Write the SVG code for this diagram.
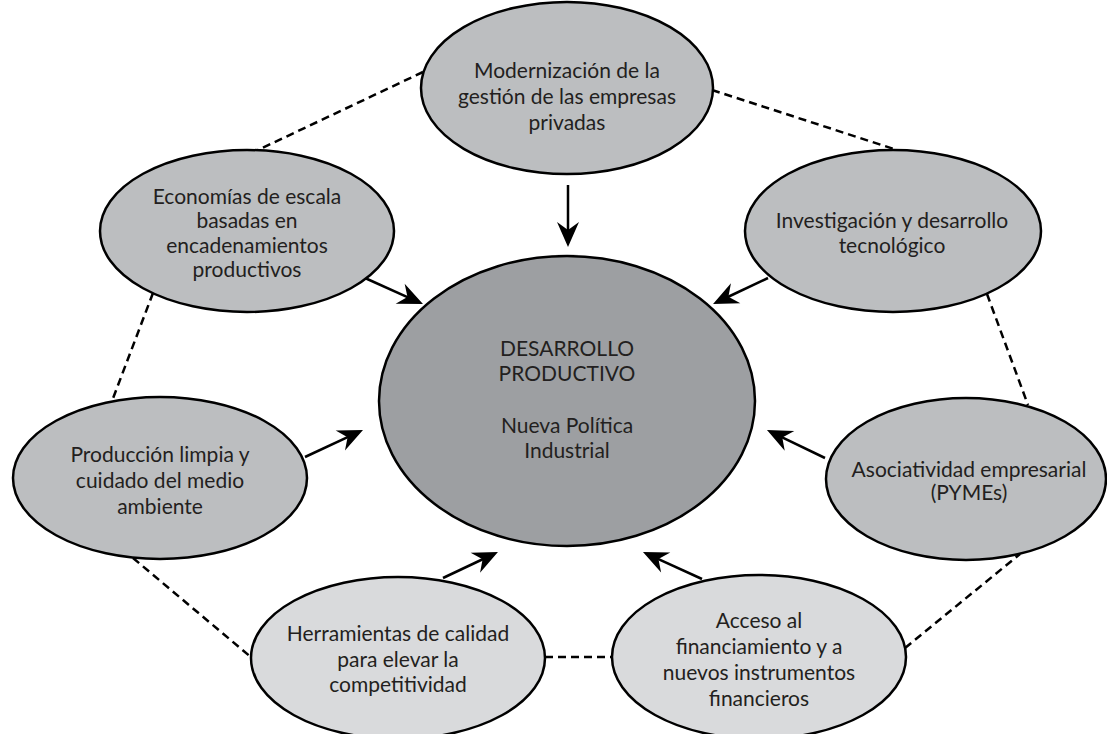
<svg xmlns="http://www.w3.org/2000/svg" width="1107" height="734" viewBox="0 0 1107 734">
<style>
.n{stroke:#000;stroke-width:2.5}
.mid{fill:#bcbec0}
.light{fill:#d9dadc}
.core{fill:#9d9fa2}
text{font-family:Lato,"Noto Sans","Liberation Sans",sans-serif;font-size:21px;fill:#231f20;text-anchor:middle}
.dash{stroke:#000;stroke-width:2.5;stroke-dasharray:8 5;fill:none}
.arr{stroke:#000;stroke-width:2.5;fill:none;marker-end:url(#ah)}
</style>
<defs>
<marker id="ah" markerUnits="userSpaceOnUse" viewBox="-12 -12 28 24" refX="0" refY="0" markerWidth="28" markerHeight="24" orient="auto">
<path d="M14,0 L-11,-11 L-3,0 L-11,11 Z" fill="#000"/>
</marker>
</defs>
<rect width="1107" height="734" fill="#fff"/>
<g id="connectors">
<line class="dash" x1="423" y1="72" x2="258" y2="150"/>
<line class="dash" x1="712" y1="90" x2="897" y2="150"/>
<line class="dash" x1="153" y1="293" x2="112" y2="401"/>
<line class="dash" x1="987" y1="294" x2="1028" y2="405"/>
<line class="dash" x1="133" y1="558" x2="252" y2="658"/>
<line class="dash" x1="545" y1="657" x2="612" y2="657"/>
<line class="dash" x1="905" y1="648" x2="1020" y2="554"/>
<line class="arr" x1="568" y1="185" x2="568" y2="233"/>
<line class="arr" x1="365" y1="278" x2="410.2" y2="298.3"/>
<line class="arr" x1="768" y1="278" x2="725.7" y2="298"/>
<line class="arr" x1="305" y1="457" x2="350.3" y2="435.9"/>
<line class="arr" x1="825" y1="458" x2="779.6" y2="436.1"/>
<line class="arr" x1="443" y1="578" x2="485.3" y2="558"/>
<line class="arr" x1="702" y1="579" x2="655.7" y2="557.8"/>
</g>
<g id="center">
<ellipse class="n core" cx="567" cy="401" rx="188" ry="145"/>
<text x="567" y="356">DESARROLLO</text>
<text x="567" y="381">PRODUCTIVO</text>
<text x="567" y="433">Nueva Política</text>
<text x="567" y="458">Industrial</text>
</g>
<g id="modernizacion">
<ellipse class="n mid" cx="567" cy="88" rx="146" ry="86"/>
<text x="567" y="78">Modernización de la</text>
<text x="567" y="104">gestión de las empresas</text>
<text x="567" y="130">privadas</text>
</g>
<g id="economias">
<ellipse class="n mid" cx="247" cy="231" rx="147" ry="81"/>
<text x="247" y="204">Economías de escala</text>
<text x="247" y="228">basadas en</text>
<text x="247" y="253">encadenamientos</text>
<text x="247" y="277">productivos</text>
</g>
<g id="investigacion">
<ellipse class="n mid" cx="893" cy="231" rx="148" ry="81"/>
<text x="892" y="228">Investigación y desarrollo</text>
<text x="892" y="253">tecnológico</text>
</g>
<g id="produccion">
<ellipse class="n mid" cx="160" cy="478" rx="147" ry="81"/>
<text x="160" y="462">Producción limpia y</text>
<text x="160" y="488">cuidado del medio</text>
<text x="160" y="514">ambiente</text>
</g>
<g id="asociatividad">
<ellipse class="n mid" cx="966" cy="479" rx="140" ry="81"/>
<text x="969" y="477">Asociatividad empresarial</text>
<text x="969" y="500">(PYMEs)</text>
</g>
<g id="herramientas">
<ellipse class="n light" cx="398" cy="658" rx="147" ry="81"/>
<text x="398" y="641">Herramientas de calidad</text>
<text x="398" y="667">para elevar la</text>
<text x="398" y="692">competitividad</text>
</g>
<g id="acceso">
<ellipse class="n light" cx="759" cy="657" rx="147" ry="82"/>
<text x="759" y="628">Acceso al</text>
<text x="759" y="654">financiamiento y a</text>
<text x="759" y="680">nuevos instrumentos</text>
<text x="759" y="706">financieros</text>
</g>
</svg>
